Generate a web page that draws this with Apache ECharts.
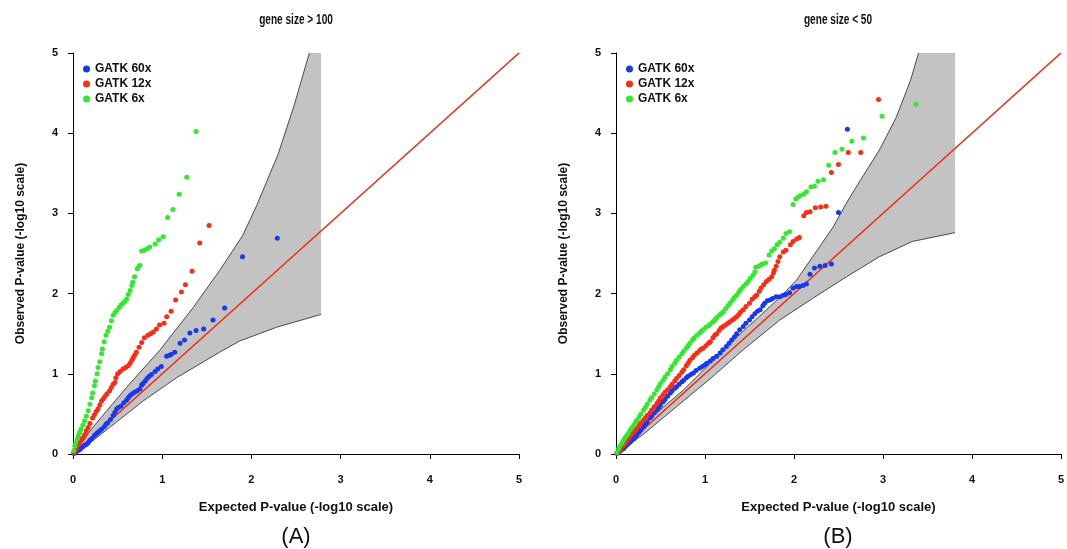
<!DOCTYPE html>
<html>
<head>
<meta charset="utf-8">
<script src="https://cdn.jsdelivr.net/npm/echarts@6/dist/echarts.min.js"></script>
<style>
html,body{margin:0;padding:0;background:#fff;}
#chart{width:1067px;height:549px;}
</style>
</head>
<body>
<div id="chart"></div>
<script>
// ---------- data ----------
const panelTitles = ['gene size > 100', 'gene size < 50'];
const panelLabels = ['(A)', '(B)'];
const seriesNames = ['GATK 60x', 'GATK 12x', 'GATK 6x'];
const axisTicks = [0, 1, 2, 3, 4, 5];
const xAxisName = 'Expected P-value (-log10 scale)';
const yAxisName = 'Observed P-value (-log10 scale)';

// Panel A (gene size > 100)
const bandA_upper = [[0,0],[0.22,0.33],[0.60,0.83],[0.97,1.29],[1.35,1.83],[1.645,2.29],[1.90,2.72],[2.06,3.10],[2.30,3.74],[2.48,4.35],[2.65,5.0]];
const bandA_lower = [[0,0],[0.075,0.04],[0.41,0.33],[0.785,0.66],[1.16,0.95],[1.645,1.27],[1.87,1.41],[2.09,1.50],[2.28,1.58],[2.78,1.74]];
const a60 = [[0.01,0.005],[0.03,0.02],[0.05,0.04],[0.07,0.05],[0.09,0.07],[0.11,0.09],[0.13,0.11],[0.15,0.12],[0.17,0.14],[0.19,0.17],[0.21,0.19],[0.24,0.23],[0.26,0.25],[0.28,0.27],[0.30,0.29],[0.32,0.31],[0.35,0.34],[0.37,0.37],[0.39,0.39],[0.42,0.43],[0.45,0.48],[0.47,0.52],[0.49,0.56],[0.51,0.58],[0.54,0.60],[0.57,0.64],[0.60,0.67],[0.62,0.70],[0.64,0.73],[0.665,0.75],[0.69,0.77],[0.72,0.79],[0.75,0.81],[0.77,0.86],[0.785,0.88],[0.81,0.91],[0.83,0.94],[0.855,0.97],[0.88,0.99],[0.92,1.03],[0.95,1.06],[0.99,1.09],[1.05,1.22],[1.08,1.23],[1.10,1.24],[1.14,1.27],[1.20,1.38],[1.25,1.42],[1.31,1.51],[1.38,1.54],[1.465,1.56],[1.57,1.67],[1.70,1.82],[1.90,2.46],[2.29,2.69]];
const a12 = [[0.01,0.02],[0.02,0.05],[0.04,0.08],[0.06,0.12],[0.08,0.15],[0.10,0.18],[0.11,0.20],[0.13,0.24],[0.15,0.29],[0.17,0.33],[0.19,0.38],[0.22,0.45],[0.24,0.49],[0.26,0.53],[0.28,0.56],[0.30,0.61],[0.32,0.66],[0.34,0.69],[0.36,0.72],[0.38,0.75],[0.41,0.79],[0.43,0.83],[0.45,0.87],[0.47,0.89],[0.48,0.95],[0.50,1.00],[0.53,1.03],[0.56,1.06],[0.59,1.08],[0.62,1.10],[0.64,1.13],[0.66,1.17],[0.675,1.20],[0.69,1.23],[0.71,1.27],[0.74,1.33],[0.77,1.39],[0.80,1.45],[0.84,1.48],[0.87,1.50],[0.90,1.52],[0.935,1.56],[0.97,1.61],[1.02,1.63],[1.05,1.71],[1.10,1.78],[1.15,1.92],[1.215,2.02],[1.26,2.11],[1.335,2.28],[1.42,2.63],[1.525,2.85]];
const a6 = [[0.01,0.04],[0.02,0.10],[0.03,0.14],[0.05,0.19],[0.06,0.23],[0.075,0.27],[0.09,0.31],[0.11,0.36],[0.13,0.41],[0.15,0.47],[0.17,0.54],[0.19,0.62],[0.21,0.70],[0.22,0.76],[0.24,0.85],[0.25,0.91],[0.27,1.00],[0.28,1.08],[0.30,1.15],[0.32,1.25],[0.33,1.31],[0.35,1.40],[0.37,1.48],[0.39,1.53],[0.41,1.58],[0.43,1.66],[0.45,1.73],[0.47,1.76],[0.49,1.79],[0.52,1.83],[0.54,1.86],[0.56,1.88],[0.58,1.90],[0.60,1.93],[0.62,1.99],[0.64,2.04],[0.66,2.10],[0.67,2.14],[0.69,2.21],[0.72,2.31],[0.74,2.34],[0.75,2.35],[0.77,2.53],[0.80,2.54],[0.83,2.56],[0.86,2.58],[0.92,2.62],[0.96,2.67],[1.01,2.71],[1.06,2.95],[1.12,3.05],[1.19,3.24],[1.275,3.45],[1.38,4.02]];

// Panel B (gene size < 50)
const bandB_upper = [[0,0],[0.27,0.34],[0.76,0.80],[1.32,1.42],[1.82,1.93],[2.03,2.17],[2.21,2.46],[2.44,2.83],[2.59,3.13],[2.75,3.42],[2.96,3.79],[3.15,4.20],[3.31,4.66],[3.40,5.0]];
const bandB_lower = [[0,0],[0.30,0.24],[0.68,0.59],[1.06,0.94],[1.43,1.30],[1.84,1.67],[2.21,1.94],[2.59,2.21],[2.96,2.46],[3.33,2.65],[3.81,2.76]];
const b60 = [[0.01,0.01],[0.03,0.02],[0.05,0.04],[0.07,0.06],[0.085,0.07],[0.10,0.09],[0.12,0.11],[0.14,0.13],[0.16,0.15],[0.18,0.17],[0.20,0.19],[0.22,0.22],[0.235,0.24],[0.26,0.27],[0.28,0.30],[0.31,0.34],[0.33,0.37],[0.35,0.40],[0.38,0.45],[0.40,0.47],[0.43,0.51],[0.46,0.55],[0.48,0.58],[0.50,0.61],[0.53,0.65],[0.55,0.68],[0.58,0.72],[0.61,0.76],[0.63,0.79],[0.66,0.82],[0.68,0.84],[0.71,0.87],[0.74,0.90],[0.76,0.92],[0.79,0.95],[0.81,0.97],[0.84,0.99],[0.87,1.01],[0.90,1.04],[0.94,1.07],[0.97,1.09],[1.00,1.11],[1.02,1.13],[1.06,1.16],[1.09,1.19],[1.13,1.22],[1.17,1.26],[1.20,1.30],[1.24,1.34],[1.27,1.38],[1.30,1.42],[1.33,1.46],[1.355,1.50],[1.39,1.55],[1.43,1.59],[1.46,1.63],[1.50,1.67],[1.53,1.71],[1.56,1.75],[1.59,1.78],[1.62,1.80],[1.65,1.85],[1.67,1.88],[1.70,1.91],[1.73,1.92],[1.76,1.94],[1.80,1.96],[1.84,1.96],[1.88,1.98],[1.91,1.99],[1.95,2.01],[1.99,2.07],[2.03,2.09],[2.06,2.09],[2.10,2.10],[2.14,2.12],[2.18,2.24],[2.23,2.32],[2.29,2.34],[2.35,2.35],[2.42,2.37],[2.50,3.01],[2.60,4.05]];
const b12 = [[0.01,0.01],[0.03,0.03],[0.05,0.06],[0.07,0.09],[0.085,0.11],[0.10,0.13],[0.12,0.16],[0.14,0.19],[0.16,0.22],[0.18,0.25],[0.20,0.27],[0.22,0.30],[0.235,0.32],[0.26,0.36],[0.28,0.39],[0.31,0.42],[0.33,0.45],[0.35,0.48],[0.38,0.51],[0.40,0.55],[0.43,0.59],[0.46,0.63],[0.48,0.66],[0.50,0.70],[0.53,0.74],[0.55,0.77],[0.58,0.80],[0.61,0.84],[0.63,0.87],[0.66,0.91],[0.68,0.94],[0.71,0.98],[0.74,1.02],[0.76,1.05],[0.79,1.10],[0.81,1.13],[0.83,1.17],[0.86,1.20],[0.88,1.23],[0.91,1.26],[0.94,1.29],[0.96,1.31],[0.98,1.32],[1.01,1.35],[1.04,1.38],[1.06,1.40],[1.09,1.45],[1.11,1.48],[1.13,1.50],[1.16,1.54],[1.18,1.57],[1.205,1.59],[1.23,1.61],[1.26,1.63],[1.28,1.65],[1.31,1.67],[1.33,1.69],[1.355,1.71],[1.38,1.74],[1.40,1.77],[1.43,1.80],[1.46,1.84],[1.50,1.88],[1.53,1.93],[1.56,1.96],[1.58,1.98],[1.61,2.03],[1.63,2.07],[1.66,2.11],[1.69,2.15],[1.72,2.18],[1.75,2.21],[1.77,2.26],[1.78,2.29],[1.80,2.34],[1.82,2.40],[1.84,2.46],[1.88,2.52],[1.91,2.54],[1.96,2.61],[1.99,2.65],[2.03,2.68],[2.06,2.70],[2.11,2.97],[2.14,3.01],[2.18,3.02],[2.24,3.07],[2.30,3.08],[2.36,3.09],[2.42,3.51],[2.50,3.61],[2.61,3.76],[2.75,3.76],[2.95,4.42]];
const b6 = [[0.01,0.02],[0.03,0.07],[0.05,0.11],[0.07,0.14],[0.085,0.17],[0.10,0.20],[0.12,0.23],[0.14,0.26],[0.16,0.30],[0.18,0.33],[0.20,0.36],[0.22,0.40],[0.235,0.42],[0.26,0.46],[0.28,0.50],[0.31,0.55],[0.33,0.58],[0.35,0.62],[0.38,0.67],[0.40,0.70],[0.43,0.75],[0.46,0.80],[0.48,0.84],[0.50,0.88],[0.53,0.92],[0.55,0.96],[0.58,1.00],[0.61,1.05],[0.63,1.09],[0.66,1.13],[0.68,1.17],[0.71,1.21],[0.74,1.25],[0.76,1.28],[0.79,1.32],[0.81,1.35],[0.83,1.38],[0.86,1.42],[0.88,1.45],[0.91,1.48],[0.94,1.51],[0.96,1.53],[0.98,1.55],[1.01,1.58],[1.04,1.60],[1.06,1.62],[1.09,1.65],[1.11,1.67],[1.13,1.70],[1.16,1.73],[1.18,1.75],[1.205,1.77],[1.23,1.81],[1.26,1.85],[1.28,1.88],[1.31,1.92],[1.33,1.95],[1.355,1.98],[1.38,2.02],[1.40,2.05],[1.43,2.09],[1.46,2.12],[1.485,2.15],[1.51,2.19],[1.54,2.23],[1.56,2.27],[1.57,2.33],[1.605,2.34],[1.63,2.36],[1.645,2.37],[1.68,2.38],[1.72,2.48],[1.75,2.53],[1.78,2.56],[1.81,2.61],[1.84,2.64],[1.88,2.69],[1.91,2.75],[1.95,2.77],[1.99,3.11],[2.02,3.18],[2.045,3.20],[2.07,3.22],[2.11,3.24],[2.14,3.27],[2.19,3.33],[2.23,3.34],[2.27,3.40],[2.33,3.42],[2.39,3.60],[2.46,3.76],[2.54,3.80],[2.65,3.90],[2.78,3.94],[2.99,4.21],[3.37,4.36]];

const diagonal = [[0,0],[5,5]];

// ---------- styling ----------
const COLORS = {'GATK 60x':'#1838f0','GATK 12x':'#fa2c14','GATK 6x':'#30ea2c'};
const SANS = "'Liberation Sans',Arial,sans-serif";
const AX_MIN = axisTicks[0], AX_MAX = axisTicks[axisTicks.length-1];

const panels = [
  {upper: bandA_upper, lower: bandA_lower, pts: [a60, a12, a6], left: 73, cx: 296},
  {upper: bandB_upper, lower: bandB_lower, pts: [b60, b12, b6], left: 616, cx: 838}
];

const chart = echarts.init(document.getElementById('chart'), null, {renderer:'canvas'});

const grids = [], xAxes = [], yAxes = [], series = [], legends = [], graphics = [];

panels.forEach((p, i) => {
  grids.push({left: p.left, top: 53, width: 446, height: 401, containLabel: false});
  xAxes.push({
    type:'value', gridIndex:i, min:AX_MIN, max:AX_MAX, interval:1,
    name: xAxisName, nameLocation:'middle', nameGap:47,
    nameTextStyle:{fontFamily:SANS, fontWeight:'bold', fontSize:13, color:'#111'},
    axisLine:{show:true, lineStyle:{color:'#000', width:1}},
    axisTick:{show:true, length:5, lineStyle:{color:'#000'}},
    axisLabel:{fontFamily:SANS, fontWeight:'bold', fontSize:11, color:'#111', margin:20},
    splitLine:{show:false}
  });
  yAxes.push({
    type:'value', gridIndex:i, min:AX_MIN, max:AX_MAX, interval:1,
    name: yAxisName, nameLocation:'middle', nameGap:46, nameRotate:90,
    nameTextStyle:{fontFamily:SANS, fontWeight:'bold', fontSize:12, color:'#111'},
    axisLine:{show:true, lineStyle:{color:'#000', width:1}},
    axisTick:{show:true, length:5, lineStyle:{color:'#000'}},
    axisLabel:{fontFamily:SANS, fontWeight:'bold', fontSize:11, color:'#111', margin:15},
    splitLine:{show:false}
  });

  // confidence band
  const upper = p.upper, lower = p.lower;
  series.push({
    type:'custom', xAxisIndex:i, yAxisIndex:i, silent:true, z:1,
    data:[[0,0]],
    renderItem: function(params, api){
      const top = upper.map(d => api.coord(d));
      const corner = api.coord([lower[lower.length-1][0], AX_MAX]);
      const bot = lower.slice().reverse().map(d => api.coord(d));
      const poly = top.concat([corner]).concat(bot);
      return {type:'group', children:[
        {type:'polygon', shape:{points:poly}, style:{fill:'#c3c3c3', stroke:null}},
        {type:'polyline', shape:{points:top}, style:{fill:null, stroke:'#4a4a4a', lineWidth:1}},
        {type:'polyline', shape:{points:lower.map(d => api.coord(d))}, style:{fill:null, stroke:'#4a4a4a', lineWidth:1}}
      ]};
    }
  });
  // diagonal
  series.push({
    type:'line', xAxisIndex:i, yAxisIndex:i, data:diagonal, symbol:'none', silent:true, z:2,
    lineStyle:{color:'#f42a12', width:1.6}
  });
  // points
  seriesNames.forEach((name, k) => {
    series.push({
      type:'scatter', name:name, xAxisIndex:i, yAxisIndex:i, data:p.pts[k],
      symbol:'circle', symbolSize:5, z:3+k,
      itemStyle:{color:COLORS[name], opacity:1}
    });
  });

  legends.push({
    data: seriesNames, orient:'vertical', left: p.left + 5, top: 58,
    icon:'circle', itemWidth:7, itemHeight:7, itemGap:3,
    textStyle:{fontFamily:SANS, fontWeight:'bold', fontSize:12, color:'#111', lineHeight:12},
    selectedMode:false
  });

  graphics.push({
    type:'text', x:p.cx, y:20, scaleX:0.72,
    style:{text: panelTitles[i], fontFamily:SANS, fontWeight:'bold', fontSize:14, fill:'#111', textAlign:'center', textVerticalAlign:'middle'}
  });
  graphics.push({
    type:'text', x:p.cx, y:537,
    style:{text: panelLabels[i], fontFamily:SANS, fontSize:22, fill:'#111', textAlign:'center', textVerticalAlign:'middle'}
  });
});

chart.setOption({
  animation:false,
  backgroundColor:'#fff',
  grid: grids, xAxis: xAxes, yAxis: yAxes, series: series, legend: legends, graphic: graphics
});
</script>
</body>
</html>
